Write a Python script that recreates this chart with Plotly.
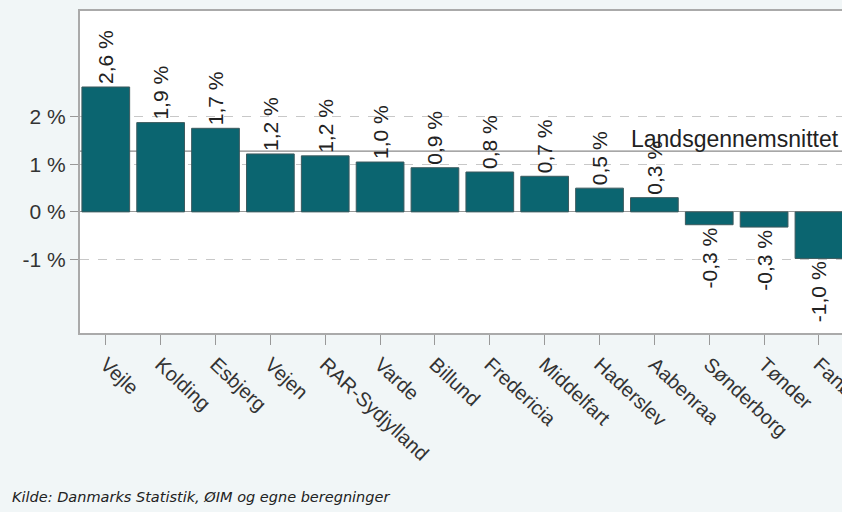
import plotly.graph_objects as go

# Data
kommuner = ["Vejle", "Kolding", "Esbjerg", "Vejen", "RAR-Sydjylland", "Varde", "Billund",
            "Fredericia", "Middelfart", "Haderslev", "Aabenraa", "Sønderborg", "Tønder", "Fanø"]
vaekst = [2.63, 1.88, 1.76, 1.22, 1.18, 1.05, 0.93, 0.84, 0.75, 0.50, 0.30, -0.27, -0.32, -0.98]
labels = ["2,6 %", "1,9 %", "1,7 %", "1,2 %", "1,2 %", "1,0 %", "0,9 %", "0,8 %", "0,7 %",
          "0,5 %", "0,3 %", "-0,3 %", "-0,3 %", "-1,0 %"]
landsgennemsnit = 1.28
y_ticks = [-1, 0, 1, 2]
y_ticktext = ["-1 %", "0 %", "1 %", "2 %"]

BAR = "#0b6570"
GREY = "#333333"
BG = "#f1f6f7"
FONT = "Liberation Sans, Arial"

fig = go.Figure()

fig.add_trace(go.Bar(
    x=list(range(len(kommuner))),
    y=vaekst,
    width=0.87,
    marker=dict(color=BAR, line=dict(color="#3d5a5e", width=1)),
    text=labels,
    textposition="outside",
    textangle=-90,
    constraintext="none",
    cliponaxis=False,
    textfont=dict(family=FONT, size=21, color="#222222"),
    hoverinfo="skip",
))

# landsgennemsnit line
fig.add_hline(y=landsgennemsnit, line=dict(color="#8a8a8a", width=1.3), layer="below")
fig.add_annotation(
    x=1, xref="paper", y=landsgennemsnit, yref="y",
    text="Landsgennemsnittet", showarrow=False,
    xanchor="right", yanchor="bottom", yshift=-3, xshift=-1,
    font=dict(family=FONT, size=23, color="#222222"),
)

# source note (plot area: x 80..842, y 11..333)
fig.add_annotation(
    x=(10 - 80) / 762, xref="paper", y=-(497 - 333) / 322, yref="paper",
    text="<i>Kilde: Danmarks Statistik, ØIM og egne beregninger</i>",
    showarrow=False, xanchor="left", yanchor="middle",
    font=dict(family="DejaVu Sans", size=14.5, color="#222222"),
)

fig.update_layout(
    width=842, height=512,
    margin=dict(l=80, r=0, t=11, b=179),
    paper_bgcolor=BG,
    plot_bgcolor="white",
    showlegend=False,
)

fig.update_xaxes(
    range=[-0.47, 13.42],
    tickmode="array",
    tickvals=list(range(len(kommuner))),
    ticktext=kommuner,
    tickangle=43,
    ticklabeloverflow="allow",
    automargin=False,
    ticks="outside", ticklen=10, tickcolor="#999999",
    tickfont=dict(family=FONT, size=20, color=GREY),
    showline=True, linecolor="#aaaaaa", linewidth=2, mirror=True,
    showgrid=False,
)

fig.update_yaxes(
    range=[-2.55, 4.23],
    tickmode="array",
    tickvals=y_ticks,
    ticktext=y_ticktext,
    automargin=False,
    ticks="outside", ticklen=8, tickcolor="#999999",
    tickfont=dict(family=FONT, size=21, color=GREY),
    showline=True, linecolor="#aaaaaa", linewidth=2, mirror=True,
    showgrid=True, gridcolor="#c8c8c8", griddash="dash", gridwidth=1,
    zeroline=True, zerolinecolor="#9a9a9a", zerolinewidth=1,
)

fig.write_html(
    "out.html",
    config={"displayModeBar": False},
    post_script="document.body.style.margin='0';document.body.style.overflow='hidden';"
                "document.body.style.background='%s';" % BG,
)
